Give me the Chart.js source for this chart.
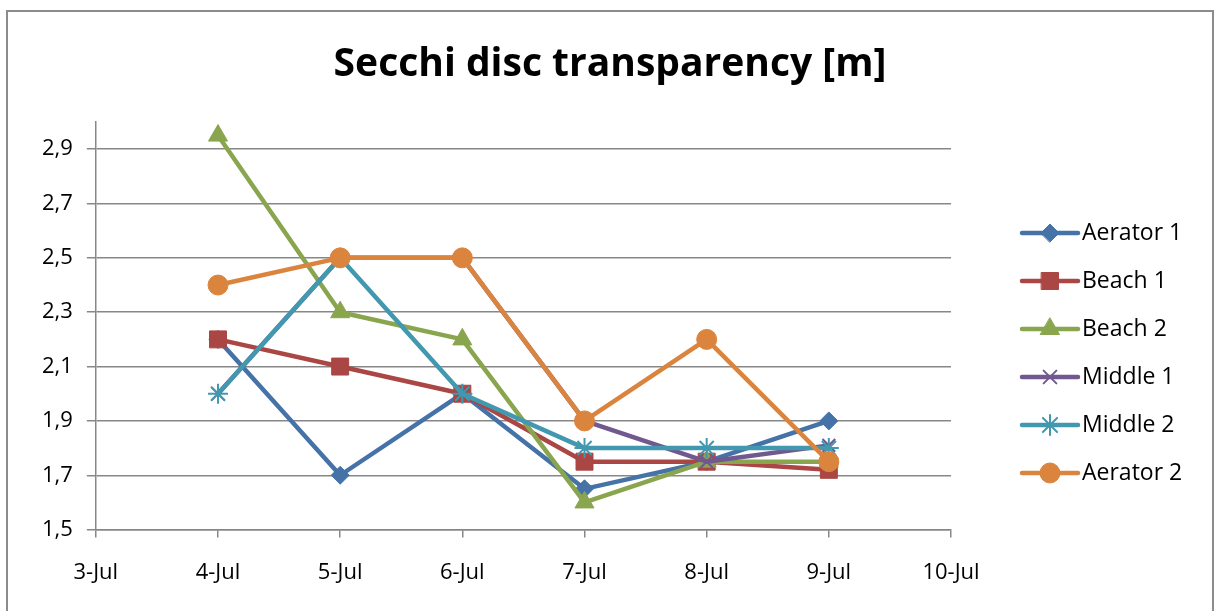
<!DOCTYPE html>
<html>
<head>
<meta charset="utf-8">
<script src="https://cdn.jsdelivr.net/npm/chart.js@4/dist/chart.umd.min.js"></script>
<style>
  html, body { margin: 0; padding: 0; background: #fff; }
  #wrap { width: 1216px; height: 611px; position: relative; }
</style>
</head>
<body>
<div id="wrap"><canvas id="canva"></canvas></div>
<script>
const days = [4, 5, 6, 7, 8, 9];
const aerator1 = [2.2, 1.7, 2.0, 1.65, 1.75, 1.9];
const beach1 = [2.2, 2.1, 2.0, 1.75, 1.75, 1.72];
const beach2 = [2.95, 2.3, 2.2, 1.6, 1.75, 1.75];
const middle1 = [2.0, 2.5, 2.5, 1.9, 1.75, 1.81];
const middle2 = [2.0, 2.5, 2.0, 1.8, 1.8, 1.8];
const aerator2 = [2.4, 2.5, 2.5, 1.9, 2.2, 1.75];
const yTicks = [1.5, 1.7, 1.9, 2.1, 2.3, 2.5, 2.7, 2.9];
const chartTitle = "Secchi disc transparency [m]";

const FONT = "'Open Sans', 'Liberation Sans', sans-serif";
const GRID = "#878787";

const series = [
  { label: "Aerator 1", data: aerator1, color: "#4572A7", style: "rectRot", r: 9, bw: 1 },
  { label: "Beach 1", data: beach1, color: "#AA4643", style: "rect", r: 12, bw: 1 },
  { label: "Beach 2", data: beach2, color: "#89A54E", style: "triangle", r: 11, bw: 1 },
  { label: "Middle 1", data: middle1, color: "#71588F", style: "crossRot", r: 9, bw: 2 },
  { label: "Middle 2", data: middle2, color: "#4198AF", style: "star", r: 10, bw: 2 },
  { label: "Aerator 2", data: aerator2, color: "#DB843D", style: "circle", r: 10, bw: 1 },
];

// outer frame + title centred on the whole canvas
const frame = {
  id: "frame",
  beforeDraw(chart) {
    const g = chart.ctx;
    g.save();
    g.strokeStyle = "#8c8c8c";
    g.lineWidth = 2;
    g.strokeRect(7, 11, 1206, 620);
    g.fillStyle = "#000";
    g.font = "bold 39px " + FONT;
    g.textAlign = "center";
    g.textBaseline = "middle";
    g.fillText(chartTitle, 610, 65);
    g.restore();
  },
};

// legend on the right: line sample with marker, then the name
const sideLegend = {
  id: "sideLegend",
  afterDraw(chart) {
    const g = chart.ctx;
    const x0 = chart.chartArea.right + 71;
    g.save();
    g.font = "23px " + FONT;
    g.textBaseline = "middle";
    chart.data.datasets.forEach((ds, i) => {
      const s = series[i];
      const y = 233 + i * 48;
      g.strokeStyle = s.color;
      g.fillStyle = s.color;
      g.lineWidth = 4.5;
      g.lineCap = "round";
      g.beginPath(); g.moveTo(x0, y); g.lineTo(x0 + 56, y); g.stroke();
      g.lineWidth = s.bw;
      Chart.helpers.drawPoint(g, { pointStyle: s.style, radius: s.r, borderWidth: s.bw }, x0 + 28, y);
      g.fillStyle = "#000";
      g.fillText(ds.label, x0 + 60, y);
    });
    g.restore();
  },
};

const ctx = document.getElementById("canva").getContext("2d");
new Chart(ctx, {
  type: "line",
  data: {
    datasets: series.map((s, i) => ({
      label: s.label,
      data: days.map((d, k) => ({ x: d, y: s.data[k] })),
      order: series.length - i,
      borderColor: s.color,
      backgroundColor: s.color,
      pointBackgroundColor: s.color,
      pointBorderColor: s.color,
      pointStyle: s.style,
      pointRadius: s.r,
      pointHoverRadius: s.r,
      pointBorderWidth: s.bw,
      borderWidth: 4.5,
      borderJoinStyle: "round",
      borderCapStyle: "round",
      tension: 0,
    })),
  },
  options: {
    responsive: true,
    maintainAspectRatio: false,
    animation: false,
    layout: { padding: { left: 28, right: 265, top: 122, bottom: 3 } },
    plugins: {
      title: { display: false },
      legend: { display: false },
      tooltip: { enabled: false },
    },
    scales: {
      x: {
        type: "linear",
        min: 3,
        max: 10,
        ticks: {
          stepSize: 1,
          color: "#000",
          font: { family: FONT, size: 22 },
          padding: 22,
          callback: (v) => v + "-Jul",
        },
        grid: { drawOnChartArea: false, drawTicks: true, tickLength: 8, color: GRID, lineWidth: 1.5 },
        border: { color: GRID, width: 1.5 },
      },
      y: {
        min: 1.5,
        max: 3.0,
        afterBuildTicks: (axis) => { axis.ticks = yTicks.map((v) => ({ value: v })); },
        ticks: {
          color: "#000",
          font: { family: FONT, size: 22 },
          padding: 14,
          callback: (v) => v.toFixed(1).replace(".", ","),
        },
        grid: { color: GRID, lineWidth: 1.5, tickLength: 9 },
        border: { color: GRID, width: 1.5 },
      },
    },
  },
  plugins: [frame, sideLegend],
});
</script>
</body>
</html>
